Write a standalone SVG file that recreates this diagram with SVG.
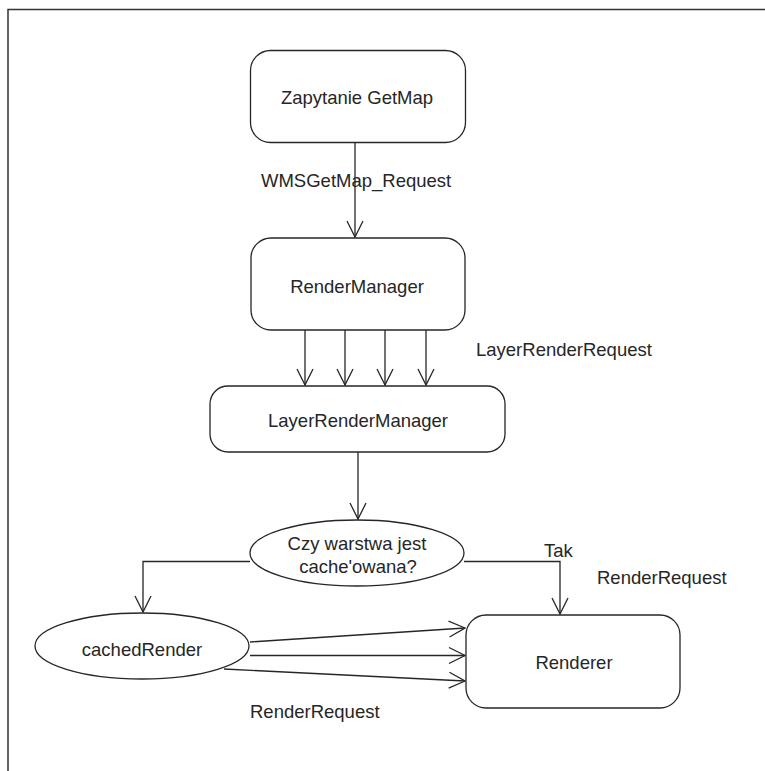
<svg xmlns="http://www.w3.org/2000/svg" width="765" height="771" viewBox="0 0 765 771">
  <style>
    .box { fill: #ffffff; stroke: #262626; stroke-width: 1.3; }
    .edge { fill: none; stroke: #262626; stroke-width: 1.3; }
    .frame { fill: none; stroke: #333333; stroke-width: 1.5; }
    text { font-family: "Liberation Sans", Arial, sans-serif; font-size: 18.5px; fill: #262626; }
    .c { text-anchor: middle; }
  </style>
  <defs>
    <marker id="open" markerUnits="userSpaceOnUse" markerWidth="20" markerHeight="20" viewBox="-17 -10 20 20" refX="0" refY="0" orient="auto" overflow="visible">
      <path d="M-16,-8 L0,0 L-16,8" fill="none" stroke="#262626" stroke-width="1.3"/>
    </marker>
  </defs>

  <rect width="765" height="771" fill="#ffffff"/>
  <!-- outer frame (only top and left edges visible) -->
  <path class="frame" d="M765,9.5 H8 V771"/>

  <g id="edges">
    <path class="edge" d="M355,142 V237" marker-end="url(#open)"/>
    <path class="edge" d="M305,330 V385" marker-end="url(#open)"/>
    <path class="edge" d="M345,330 V385" marker-end="url(#open)"/>
    <path class="edge" d="M385,330 V385" marker-end="url(#open)"/>
    <path class="edge" d="M426,330 V385" marker-end="url(#open)"/>
    <path class="edge" d="M358,452 V519" marker-end="url(#open)"/>
    <path class="edge" d="M250,561.5 H143 V612" marker-end="url(#open)"/>
    <path class="edge" d="M464,561.5 H560 V614" marker-end="url(#open)"/>
    <path class="edge" d="M250,642 L465,628" marker-end="url(#open)"/>
    <path class="edge" d="M250,655.5 H465" marker-end="url(#open)"/>
    <path class="edge" d="M224,669 L465,681" marker-end="url(#open)"/>
    <text x="261" y="187">WMSGetMap_Request</text>
    <text x="476" y="356">LayerRenderRequest</text>
    <text x="544" y="557">Tak</text>
    <text x="597" y="584">RenderRequest</text>
    <text x="250" y="718">RenderRequest</text>
  </g>

  <g id="zapytanie">
    <rect class="box" x="250.5" y="50.5" width="215" height="92" rx="20"/>
    <text class="c" x="357" y="104">Zapytanie GetMap</text>
  </g>

  <g id="renderManager">
    <rect class="box" x="251" y="238" width="214" height="92" rx="20"/>
    <text class="c" x="357" y="293">RenderManager</text>
  </g>

  <g id="layerRenderManager">
    <rect class="box" x="210" y="386" width="295" height="66" rx="18"/>
    <text class="c" x="358" y="427">LayerRenderManager</text>
  </g>

  <g id="decision">
    <ellipse class="box" cx="357" cy="553" rx="107" ry="33"/>
    <text class="c" x="357" y="550">Czy warstwa jest</text>
    <text class="c" x="358" y="573">cache'owana?</text>
  </g>

  <g id="cachedRender">
    <ellipse class="box" cx="142" cy="646" rx="107" ry="33"/>
    <text class="c" x="142" y="656">cachedRender</text>
  </g>

  <g id="renderer">
    <rect class="box" x="466" y="615" width="214" height="93" rx="20"/>
    <text class="c" x="574" y="669">Renderer</text>
  </g>
</svg>
